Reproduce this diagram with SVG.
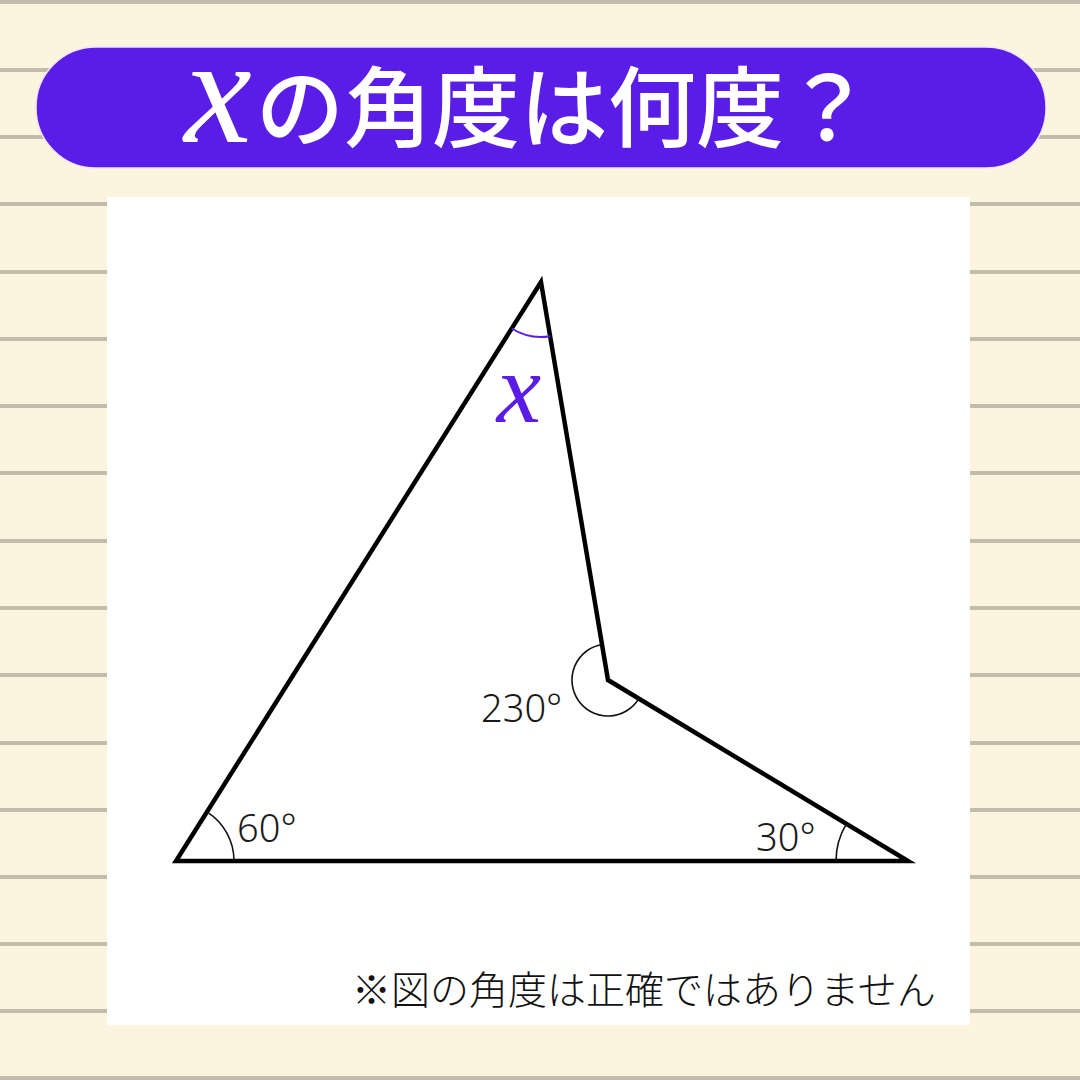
<svg xmlns="http://www.w3.org/2000/svg" width="1080" height="1080" viewBox="0 0 1080 1080">
<style>
.rule{stroke:#c4bcaa;stroke-width:4}
.edge{fill:none;stroke:#000;stroke-width:4.5;stroke-linejoin:miter;stroke-linecap:round}
.arc{fill:none;stroke:#111;stroke-width:1.6}
.num{font-family:"Noto Sans","Noto Sans CJK JP",sans-serif;font-weight:300;font-size:38px;fill:#1a1a1a}
.var{font-family:"Liberation Serif","DejaVu Serif",serif;font-style:italic}
</style>
<rect width="1080" height="1080" fill="#fdf4e0"/>
<g id="rules">
<line class="rule" x1="0" y1="2" x2="1080" y2="2"/>
<line class="rule" x1="0" y1="70" x2="1080" y2="70"/>
<line class="rule" x1="0" y1="137" x2="1080" y2="137"/>
<line class="rule" x1="0" y1="204" x2="1080" y2="204"/>
<line class="rule" x1="0" y1="272" x2="1080" y2="272"/>
<line class="rule" x1="0" y1="339" x2="1080" y2="339"/>
<line class="rule" x1="0" y1="406" x2="1080" y2="406"/>
<line class="rule" x1="0" y1="473" x2="1080" y2="473"/>
<line class="rule" x1="0" y1="541" x2="1080" y2="541"/>
<line class="rule" x1="0" y1="608" x2="1080" y2="608"/>
<line class="rule" x1="0" y1="675" x2="1080" y2="675"/>
<line class="rule" x1="0" y1="743" x2="1080" y2="743"/>
<line class="rule" x1="0" y1="810" x2="1080" y2="810"/>
<line class="rule" x1="0" y1="877" x2="1080" y2="877"/>
<line class="rule" x1="0" y1="944" x2="1080" y2="944"/>
<line class="rule" x1="0" y1="1011" x2="1080" y2="1011"/>
<line class="rule" x1="0" y1="1078" x2="1080" y2="1078"/>
</g>
<g id="title">
<rect x="36" y="47" width="1010" height="121" rx="60" fill="#5a1de8" stroke="#efe4ff" stroke-width="1.5"/>
<text class="var" x="218" y="142" font-size="152" fill="#ffffff" text-anchor="middle">x</text>
<text x="256" y="140" font-family="'Noto Sans CJK JP',sans-serif" font-weight="500" font-size="88" fill="#ffffff">の角度は何度？</text>
</g>
<rect id="panel" x="107" y="197" width="863" height="828" fill="#ffffff"/>
<g id="figure">
<polygon class="edge" points="541,282 608,680 908,861 176,861"/>
</g>
<g id="angles">
<path d="M511.7,328.5 A55,55 0 0 0 550.1,336.2" fill="none" stroke="#5a1de8" stroke-width="2"/>
<path class="arc" d="M602,644.5 A36,36 0 1 0 638.8,698.6"/>
<path class="arc" d="M234,861 A58,58 0 0 0 206.9,811.9"/>
<path class="arc" d="M836,861 A72,72 0 0 1 846.4,823.8"/>
</g>
<g id="labels">
<text class="var" x="519" y="422" font-size="100" fill="#5a1de8" text-anchor="middle">x</text>
<text class="num" x="481" y="722">230°</text>
<text class="num" x="237" y="842">60°</text>
<text class="num" x="756" y="851">30°</text>
<text x="352" y="1004" font-family="'Noto Sans CJK JP',sans-serif" font-weight="300" font-size="39" fill="#111">※図の角度は正確ではありません</text>
</g>
</svg>
